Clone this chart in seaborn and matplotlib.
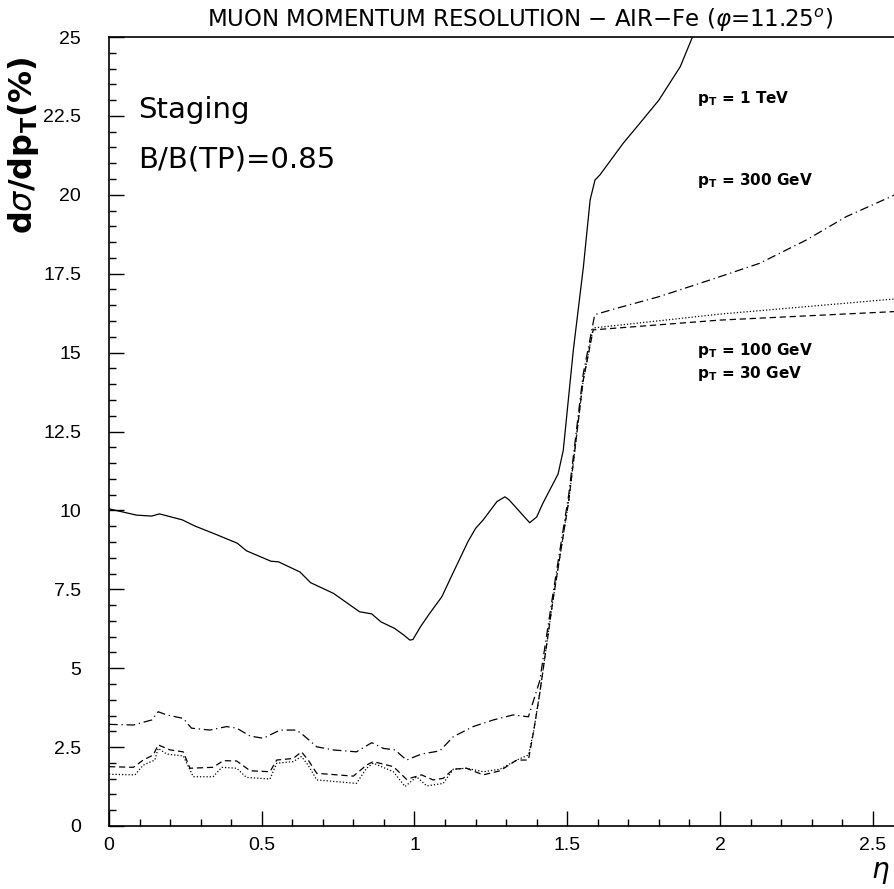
import numpy as np
import pandas as pd
import seaborn as sns
import matplotlib
matplotlib.use("Agg")
import matplotlib.pyplot as plt
from matplotlib.ticker import MultipleLocator

# Muon momentum resolution vs pseudorapidity, one curve per transverse momentum
eta_1tev = [0.0, 0.09, 0.14, 0.165, 0.24, 0.28, 0.35, 0.42, 0.45, 0.53, 0.555, 0.625,
            0.66, 0.735, 0.82, 0.86, 0.89, 0.935, 0.965, 0.985, 0.995, 1.02, 1.05,
            1.09, 1.115, 1.175, 1.20, 1.225, 1.27, 1.296, 1.31, 1.377, 1.40, 1.42,
            1.47, 1.487, 1.52, 1.553, 1.575, 1.591, 1.607, 1.683, 1.738, 1.80, 1.87,
            1.91, 1.95]
res_1tev = [10.05, 9.85, 9.82, 9.89, 9.70, 9.51, 9.24, 8.96, 8.72, 8.39, 8.37, 8.05,
            7.71, 7.37, 6.79, 6.72, 6.47, 6.26, 6.05, 5.89, 5.91, 6.32, 6.74,
            7.27, 7.79, 9.01, 9.43, 9.70, 10.28, 10.43, 10.33, 9.61, 9.79, 10.22,
            11.15, 11.9, 15.08, 17.72, 19.84, 20.47, 20.63, 21.63, 22.27, 23.0, 24.06,
            25.0, 25.9]

eta_300gev = [0.0, 0.08, 0.14, 0.161, 0.189, 0.243, 0.27, 0.33, 0.385, 0.418, 0.462,
              0.505, 0.56, 0.614, 0.636, 0.68, 0.734, 0.81, 0.86, 0.898, 0.936, 0.974,
              1.023, 1.083, 1.127, 1.192, 1.258, 1.323, 1.373, 1.41, 1.454, 1.505,
              1.552, 1.59, 1.66, 1.80, 1.967, 2.13, 2.283, 2.414, 2.573]
res_300gev = [3.22, 3.20, 3.36, 3.62, 3.52, 3.41, 3.10, 3.04, 3.15, 3.10, 2.85,
              2.78, 3.04, 3.04, 2.88, 2.51, 2.41, 2.35, 2.64, 2.46, 2.41, 2.09,
              2.28, 2.38, 2.83, 3.15, 3.36, 3.52, 3.46, 4.6, 7.4, 10.5,
              14.3, 16.2, 16.40, 16.77, 17.3, 17.83, 18.57, 19.31, 20.0]

eta_100gev = [0.0, 0.085, 0.112, 0.15, 0.161, 0.189, 0.243, 0.276, 0.341, 0.369,
              0.418, 0.45, 0.527, 0.549, 0.603, 0.63, 0.652, 0.68, 0.81, 0.843,
              0.865, 0.931, 0.969, 1.007, 1.04, 1.094, 1.127, 1.17, 1.225, 1.28,
              1.335, 1.373, 1.39, 1.41, 1.454, 1.505, 1.552, 1.585, 2.0, 2.573]
res_100gev = [1.64, 1.62, 1.93, 2.09, 2.46, 2.28, 2.22, 1.56, 1.56, 1.86,
              1.83, 1.54, 1.49, 1.99, 2.04, 2.20, 1.93, 1.46, 1.35, 1.83,
              1.99, 1.72, 1.25, 1.56, 1.27, 1.35, 1.80, 1.83, 1.72, 1.80,
              2.09, 2.25, 3.0, 4.2, 7.2, 10.3, 14.1, 15.78, 16.22, 16.7]

eta_30gev = [0.0, 0.08, 0.112, 0.145, 0.161, 0.2, 0.243, 0.265, 0.341, 0.374,
             0.418, 0.462, 0.527, 0.549, 0.603, 0.63, 0.652, 0.68, 0.8, 0.843,
             0.865, 0.931, 0.974, 1.023, 1.061, 1.094, 1.127, 1.17, 1.225, 1.28,
             1.335, 1.373, 1.39, 1.41, 1.454, 1.505, 1.552, 1.585, 2.0, 2.573]
res_30gev = [1.88, 1.86, 2.09, 2.25, 2.57, 2.41, 2.35, 1.83, 1.86, 2.07,
             2.06, 1.75, 1.72, 2.09, 2.14, 2.35, 2.09, 1.67, 1.58, 1.93,
             2.04, 1.88, 1.48, 1.62, 1.46, 1.51, 1.80, 1.83, 1.62, 1.75,
             2.09, 2.09, 3.0, 4.2, 7.2, 10.3, 14.1, 15.72, 16.03, 16.3]

curve_labels = [r"p$_\mathregular{T}$ = 1 TeV", r"p$_\mathregular{T}$ = 300 GeV",
                r"p$_\mathregular{T}$ = 100 GeV", r"p$_\mathregular{T}$ = 30 GeV"]
y_ticks = [0, 2.5, 5, 7.5, 10, 12.5, 15, 17.5, 20, 22.5, 25]
y_tick_labels = ["0", "2.5", "5", "7.5", "10", "12.5", "15", "17.5", "20", "22.5", "25"]
x_ticks = [0, 0.5, 1, 1.5, 2, 2.5]
x_tick_labels = ["0", "0.5", "1", "1.5", "2", "2.5"]

sns.set_theme(style="ticks")
plt.rcParams["font.family"] = ["DejaVu Sans"]
plt.rcParams["text.color"] = "black"
plt.rcParams["xtick.color"] = "black"
plt.rcParams["ytick.color"] = "black"
plt.rcParams["xtick.labelcolor"] = "black"
plt.rcParams["ytick.labelcolor"] = "black"

fig = plt.figure(figsize=(8.95, 8.89), dpi=100)
ax = fig.add_axes([109 / 895, 63 / 889, 1 - 109 / 895, (826 - 37) / 889])

styles = [
    (eta_1tev, res_1tev, None),
    (eta_300gev, res_300gev, (7, 3, 1, 3)),
    (eta_100gev, res_100gev, (1, 1.6)),
    (eta_30gev, res_30gev, (5, 3)),
]
for xs, ys, dash in styles:
    df = pd.DataFrame({"eta": xs, "res": ys})
    sns.lineplot(data=df, x="eta", y="res", ax=ax, color="black", lw=0.9)
    if dash is not None:
        ax.lines[-1].set_dashes(dash)

ax.set_xlim(0, 2.573)
ax.set_ylim(0, 25)
ax.set_xlabel("")
ax.set_ylabel("")

ax.set_yticks(y_ticks)
ax.set_yticklabels(y_tick_labels, fontsize=14, family="Liberation Sans")
ax.set_xticks(x_ticks)
ax.set_xticklabels(x_tick_labels, fontsize=14, family="Liberation Sans")
ax.xaxis.set_minor_locator(MultipleLocator(0.1))
ax.yaxis.set_minor_locator(MultipleLocator(0.5))
ax.tick_params(axis="both", which="major", direction="in", length=10.5, width=1.0)
ax.tick_params(axis="both", which="minor", direction="in", length=5.2, width=1.0)
ax.tick_params(axis="y", which="major", pad=20)
ax.tick_params(axis="x", which="major", pad=8)

for side in ["left", "bottom", "top"]:
    ax.spines[side].set_visible(True)
    ax.spines[side].set_linewidth(1.2)
    ax.spines[side].set_color("black")
ax.spines["right"].set_visible(False)

fig.text(520 / 895, 1 - 20 / 889,
         r"MUON MOMENTUM RESOLUTION $-$ AIR$-$Fe ($\varphi$=11.25$^o$)",
         ha="center", va="center", fontsize=16.5)
fig.text(24 / 895, 1 - 145 / 889, r"d$\sigma$/dp$_\mathregular{T}$(%)", rotation=90,
         ha="center", va="center", fontsize=23, fontweight="bold")
fig.text(880 / 895, 1 - 872 / 889, r"$\eta$", ha="center", va="center", fontsize=20)

fig.text(138 / 895, 1 - 110 / 889, "Staging", ha="left", va="center", fontsize=21)
fig.text(138 / 895, 1 - 160 / 889, "B/B(TP)=0.85", ha="left", va="center", fontsize=21)

label_y = [98, 180, 350, 373]
for lab, yp in zip(curve_labels, label_y):
    fig.text(697 / 895, 1 - yp / 889, lab, ha="left", va="center", fontsize=11,
             fontweight="bold")

fig.savefig("out.png", dpi=100)
